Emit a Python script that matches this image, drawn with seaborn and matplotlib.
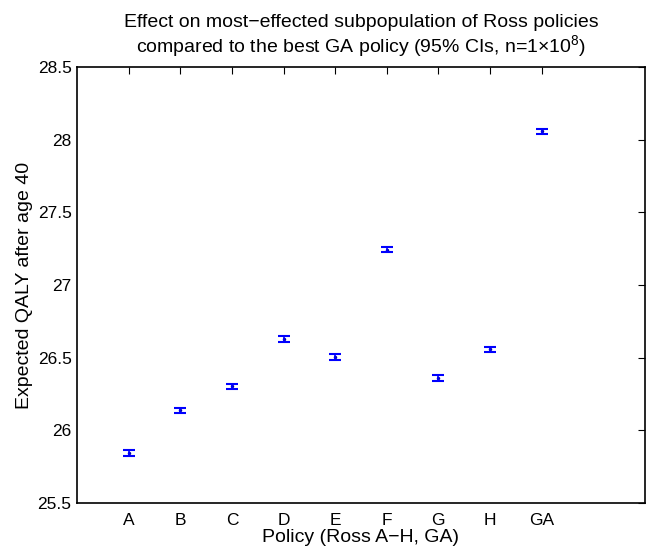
import numpy as np
import pandas as pd
import seaborn as sns
import matplotlib.pyplot as plt

policies = ["A", "B", "C", "D", "E", "F", "G", "H", "GA"]
qaly_mean = [25.844, 26.138, 26.303, 26.628, 26.505, 27.244, 26.361, 26.558, 28.058]
ci_half = [0.018, 0.018, 0.018, 0.018, 0.018, 0.018, 0.018, 0.018, 0.018]

df = pd.DataFrame({"pos": np.arange(1, len(policies) + 1),
                   "Policy": policies, "QALY": qaly_mean, "ci": ci_half})

sns.set_style("white")
plt.rcParams['font.family'] = ['Liberation Sans', 'DejaVu Sans']
plt.rcParams['mathtext.fontset'] = 'custom'
plt.rcParams['mathtext.rm'] = 'Liberation Sans'
plt.rcParams['mathtext.it'] = 'Liberation Sans'
plt.rcParams['text.color'] = 'black'
plt.rcParams['axes.labelcolor'] = 'black'

fig = plt.figure(figsize=(6.48, 5.47), dpi=100)
ax = fig.add_axes([0.119, 0.0804, 0.876, 0.797])

ax.errorbar(df["pos"], df["QALY"], yerr=df["ci"], fmt="none", ecolor="#0000ff",
            elinewidth=1.2, capsize=4, capthick=1.5)
sns.scatterplot(data=df, x="pos", y="QALY", color="#0000aa", marker=".", s=25,
                linewidth=0, ax=ax, legend=False)

ax.set_xlim(0, 11)
ax.set_ylim(25.5, 28.5)
ax.set_xticks(df["pos"])
ax.set_xticklabels(policies)
ax.set_yticks([25.5, 26, 26.5, 27, 27.5, 28, 28.5])
ax.set_yticklabels(["25.5", "26", "26.5", "27", "27.5", "28", "28.5"])
ax.tick_params(direction="in", length=5, width=0.8, top=True, right=True,
               labelsize=12.5, colors="black")
ax.tick_params(axis="y", pad=4)
ax.tick_params(axis="x", pad=7)
for sp in ax.spines.values():
    sp.set_color("black")
    sp.set_linewidth(1.2)

ax.set_xlabel("Policy (Ross A\u2212H, GA)", fontsize=14, labelpad=1)
ax.set_ylabel("Expected QALY after age 40", fontsize=14, labelpad=3)
ax.set_title("Effect on most\u2212effected subpopulation of Ross policies\n"
             "compared to the best GA policy (95% CIs, n=1$\\times$10$^8$)",
             fontsize=14, pad=11, linespacing=1.1)

fig.savefig("out.png", dpi=100)
